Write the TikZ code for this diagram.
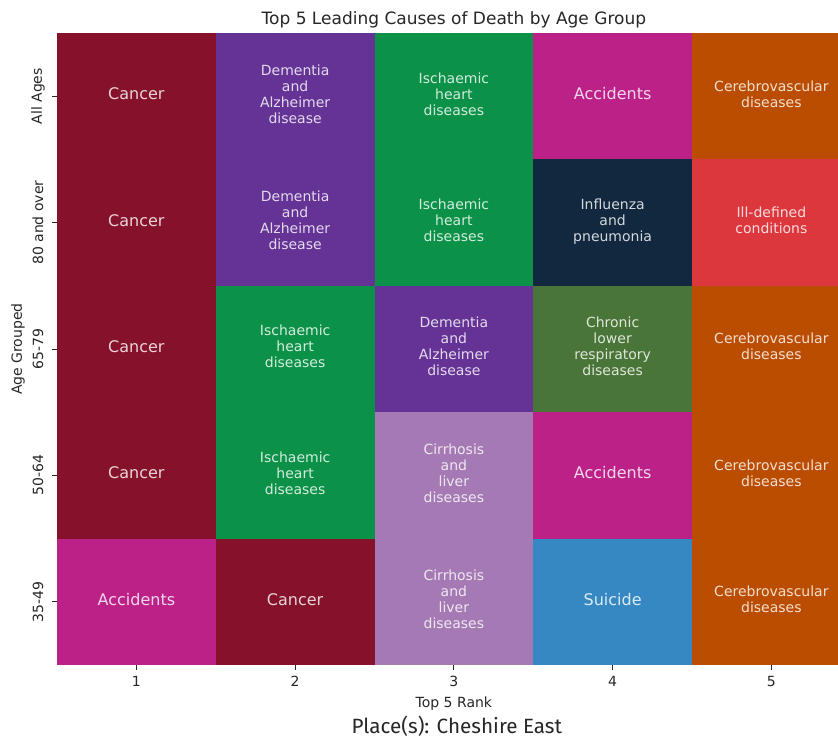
\documentclass[tikz,border=0pt]{standalone}
\usepackage{fontspec}
\setmainfont{DejaVu Sans}
\newfontfamily\placefont{Fira Sans}
\usetikzlibrary{positioning}
\definecolor{cancer}{HTML}{86112A}
\definecolor{dementia}{HTML}{653396}
\definecolor{ischaemic}{HTML}{0C9248}
\definecolor{accidents}{HTML}{BC2188}
\definecolor{cerebro}{HTML}{BA4D00}
\definecolor{influenza}{HTML}{11283F}
\definecolor{illdef}{HTML}{DB373D}
\definecolor{chronic}{HTML}{4A7538}
\definecolor{cirrhosis}{HTML}{A57AB4}
\definecolor{suicide}{HTML}{3688C2}
\definecolor{axisgray}{HTML}{262626}
\newcommand{\oneline}[1]{{\fontsize{12}{14}\selectfont #1}}
\tikzstyle{cell}=[rectangle,draw=none,inner sep=0pt,outer sep=0pt,minimum width=119.06pt,minimum height=94.8pt,align=center,text depth=3.75pt,text=white,text opacity=0.82,font=\fontsize{10.5}{12}\selectfont]
\tikzstyle{ticklabel}=[text=axisgray,font=\fontsize{10.5}{12}\selectfont]
\tikzstyle{tickmark}=[draw=axisgray,line width=0.6pt]
\tikzstyle{charttitle}=[text=axisgray,font=\fontsize{12.75}{15}\selectfont]

\begin{document}
\begin{tikzpicture}[x=0.75pt,y=-0.75pt]
    \useasboundingbox (0,0) rectangle (838,738);

    % heatmap cells, row by age group, column by rank
    \begin{scope}
    \clip (0,0) rectangle (838,738);
    \foreach \r/\c/\col/\txt in {
        1/1/cancer/\oneline{Cancer}, 1/2/dementia/{Dementia\\and\\Alzheimer\\disease}, 1/3/ischaemic/{Ischaemic\\heart\\diseases}, 1/4/accidents/\oneline{Accidents}, 1/5/cerebro/{Cerebrovascular\\diseases},
        2/1/cancer/\oneline{Cancer}, 2/2/dementia/{Dementia\\and\\Alzheimer\\disease}, 2/3/ischaemic/{Ischaemic\\heart\\diseases}, 2/4/influenza/{Influenza\\and\\pneumonia}, 2/5/illdef/{Ill-defined\\conditions},
        3/1/cancer/\oneline{Cancer}, 3/2/ischaemic/{Ischaemic\\heart\\diseases}, 3/3/dementia/{Dementia\\and\\Alzheimer\\disease}, 3/4/chronic/{Chronic\\lower\\respiratory\\diseases}, 3/5/cerebro/{Cerebrovascular\\diseases},
        4/1/cancer/\oneline{Cancer}, 4/2/ischaemic/{Ischaemic\\heart\\diseases}, 4/3/cirrhosis/{Cirrhosis\\and\\liver\\diseases}, 4/4/accidents/\oneline{Accidents}, 4/5/cerebro/{Cerebrovascular\\diseases},
        5/1/accidents/\oneline{Accidents}, 5/2/cancer/\oneline{Cancer}, 5/3/cirrhosis/{Cirrhosis\\and\\liver\\diseases}, 5/4/suicide/\oneline{Suicide}, 5/5/cerebro/{Cerebrovascular\\diseases}}
        \node[cell,fill=\col] (c-\r-\c) at ({57+(\c-0.5)*158.75},{33+(\r-0.5)*126.4}) {\txt};
    \end{scope}

    % x axis
    \foreach \c in {1,...,5} {
        \draw[tickmark] (c-5-\c.south) -- ++(0,5);
        \node[ticklabel, below=5pt of c-5-\c.south] (xt-\c) {\c};
    }
    \node[ticklabel, below=0pt of xt-3] (rank) {Top 5 Rank};

    % y axis
    \foreach \r/\age in {1/All Ages, 2/80 and over, 3/65-79, 4/50-64, 5/35-49} {
        \draw[tickmark] (c-\r-1.west) -- ++(-5,0);
        \node[ticklabel, rotate=90] (yt-\r) at ([shift={(-19,0)}]c-\r-1.west) {\age};
    }
    \node[ticklabel, rotate=90] (agegrp) at ([shift={(-39,0)}]c-3-1.west) {Age Grouped};

    \node[charttitle, above=0pt of c-1-3.north] (title) {Top 5 Leading Causes of Death by Age Group};
    \node[text=axisgray, font=\placefont\fontsize{15.5}{17}\selectfont, anchor=base] (place) at ([shift={(3,68)}]c-5-3.south) {Place(s): Cheshire East};

\end{tikzpicture}
\end{document}
